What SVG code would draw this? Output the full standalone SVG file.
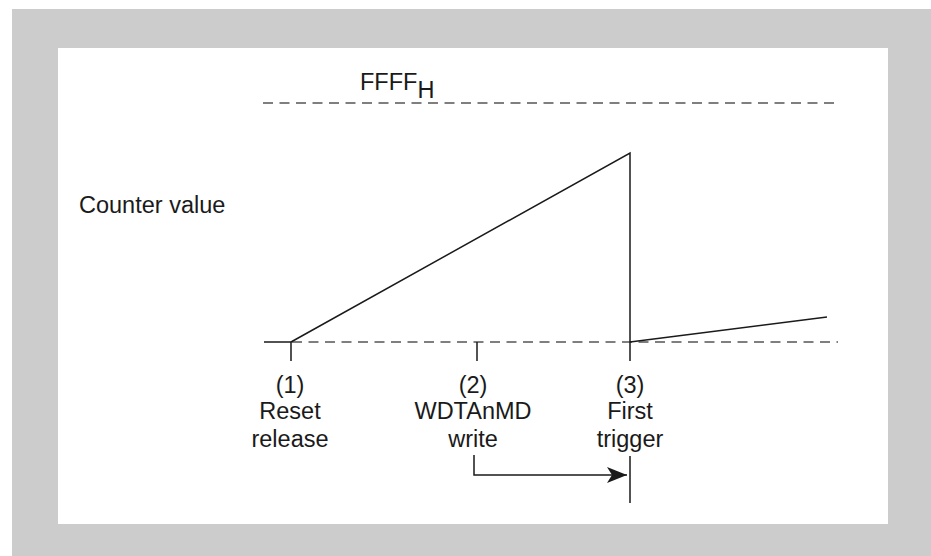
<svg xmlns="http://www.w3.org/2000/svg" width="931" height="556" viewBox="0 0 931 556">
<style>
text{font-family:"Liberation Sans",Arial,sans-serif;font-size:23.5px;fill:#1a1a1a}
.c{text-anchor:middle}
.s{stroke:#1a1a1a;stroke-width:1.5;fill:none}
.d{stroke:#555;stroke-width:1.3;stroke-dasharray:10 6.5;fill:none}
</style>
<defs><marker id="ah" markerWidth="20" markerHeight="16" refX="20" refY="8" orient="auto" markerUnits="userSpaceOnUse"><path d="M0,0 L20,8 L0,16 L5,8 Z" fill="#1a1a1a"/></marker></defs>
<rect x="12" y="9" width="919" height="547" fill="#cccccc"/>
<rect x="58" y="48" width="830" height="476" fill="#ffffff"/>
<g id="labels">
<text x="360" y="90" font-size="22.5">FFFF<tspan dy="8">H</tspan></text>
<text x="79" y="213">Counter value</text>
</g>
<g id="connectors">
<path class="d" d="M263,103 H838"/>
<path class="d" d="M292,342 H838"/>
<path class="s" d="M264,342 H291 V361"/>
<path class="s" d="M291,342 L630,153 V361"/>
<path class="s" d="M630,342 L827,317"/>
<path class="s" d="M477,342 V361"/>
<path class="s" d="M474,455 V475 H627" marker-end="url(#ah)"/>
<path class="s" d="M630,456 V503"/>
</g>
<g id="p1"><text class="c" x="290" y="393">(1)</text><text class="c" x="290" y="419">Reset</text><text class="c" x="290" y="447">release</text></g>
<g id="p2"><text class="c" x="473" y="393">(2)</text><text class="c" x="473" y="419">WDTAnMD</text><text class="c" x="473" y="447">write</text></g>
<g id="p3"><text class="c" x="630" y="393">(3)</text><text class="c" x="630" y="419">First</text><text class="c" x="630" y="447">trigger</text></g>
</svg>
